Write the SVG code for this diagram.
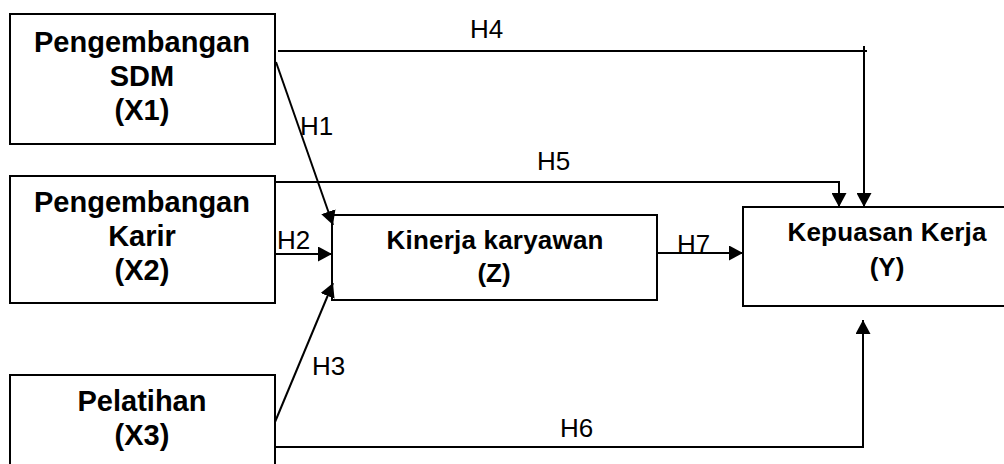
<svg xmlns="http://www.w3.org/2000/svg" width="1004" height="464" viewBox="0 0 1004 464">
  <style>
    .box { fill: #fff; stroke: #000; stroke-width: 2; }
    .lbl { font-family: "Liberation Sans", Arial, sans-serif; font-weight: bold; fill: #000; text-anchor: middle; }
    .big { font-size: 29px; }
    .mid { font-size: 26px; }
    .hyp { font-family: "Liberation Sans", Arial, sans-serif; font-size: 26px; fill: #000; }
    .wire { fill: none; stroke: #000; stroke-width: 2; }
  </style>
  <defs>
    <marker id="arrow" markerUnits="userSpaceOnUse" markerWidth="14" markerHeight="15" refX="14" refY="7.5" orient="auto">
      <path d="M0,0 L14,7.5 L0,15 z" fill="#000"/>
    </marker>
  </defs>
  <rect width="1004" height="464" fill="#fff"/>

  <g id="node-x1">
    <rect class="box" x="10" y="14" width="265" height="130"/>
    <text class="lbl big" x="142" y="52">Pengembangan</text>
    <text class="lbl big" x="142" y="86">SDM</text>
    <text class="lbl big" x="142" y="120">(X1)</text>
  </g>

  <g id="node-x2">
    <rect class="box" x="10" y="176" width="265" height="127"/>
    <text class="lbl big" x="142" y="212">Pengembangan</text>
    <text class="lbl big" x="142" y="246">Karir</text>
    <text class="lbl big" x="142" y="280">(X2)</text>
  </g>

  <g id="node-x3">
    <rect class="box" x="10" y="375" width="265" height="100"/>
    <text class="lbl big" x="142" y="411">Pelatihan</text>
    <text class="lbl big" x="142" y="445">(X3)</text>
  </g>

  <g id="node-z">
    <rect class="box" x="332" y="215" width="325" height="85"/>
    <text class="lbl mid" x="495" y="249" textLength="217" lengthAdjust="spacing">Kinerja karyawan</text>
    <text class="lbl mid" x="494" y="282">(Z)</text>
  </g>

  <g id="node-y">
    <rect class="box" x="743" y="207" width="290" height="99"/>
    <text class="lbl mid" x="887" y="241" textLength="199" lengthAdjust="spacing">Kepuasan Kerja</text>
    <text class="lbl mid" x="887" y="276">(Y)</text>
  </g>

  <g id="connectors">
    <!-- H1: X1 -> Z -->
    <line class="wire" x1="276" y1="62" x2="333" y2="225" marker-end="url(#arrow)"/>
    <!-- H2: X2 -> Z -->
    <line class="wire" x1="275" y1="254" x2="332" y2="254" marker-end="url(#arrow)"/>
    <!-- H3: X3 -> Z -->
    <line class="wire" x1="275" y1="422" x2="333" y2="283" marker-end="url(#arrow)"/>
    <!-- H4: X1 -> Y -->
    <polyline class="wire" points="278,51 867,51"/>
    <line class="wire" x1="864" y1="46" x2="864" y2="207" marker-end="url(#arrow)"/>
    <!-- H5: X2 -> Y -->
    <polyline class="wire" points="275,182 839,182 839,207" marker-end="url(#arrow)"/>
    <!-- H6: X3 -> Y -->
    <polyline class="wire" points="275,447 863,447 863,320" marker-end="url(#arrow)"/>
    <!-- H7: Z -> Y -->
    <line class="wire" x1="657" y1="253" x2="743" y2="253" marker-end="url(#arrow)"/>

    <text class="hyp" x="300" y="135">H1</text>
    <text class="hyp" x="277" y="249">H2</text>
    <text class="hyp" x="312" y="375">H3</text>
    <text class="hyp" x="470" y="38">H4</text>
    <text class="hyp" x="537" y="170">H5</text>
    <text class="hyp" x="560" y="437">H6</text>
    <text class="hyp" x="677" y="253">H7</text>
  </g>
</svg>
